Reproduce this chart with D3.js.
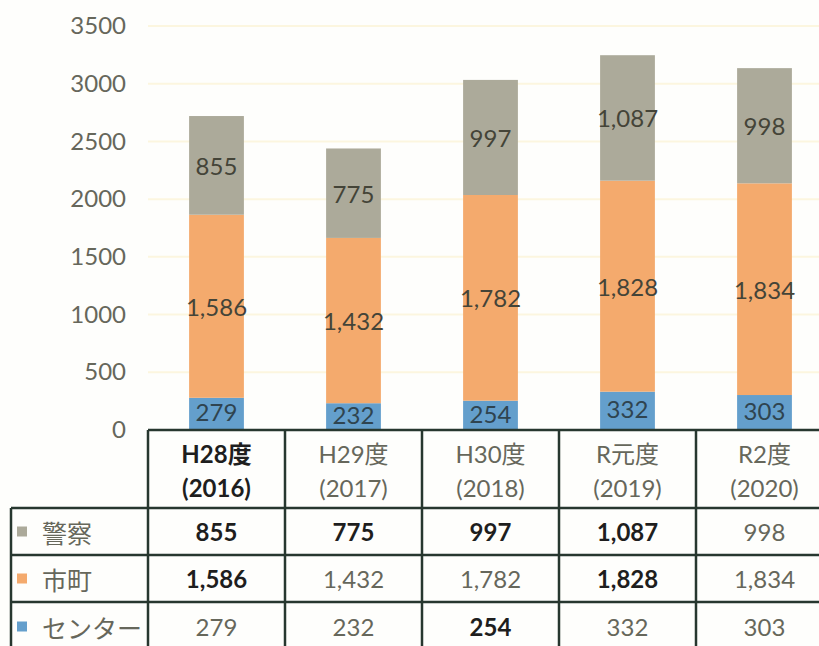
<!DOCTYPE html>
<html lang="ja">
<head>
    <meta charset="UTF-8">
    <title>Chart</title>
    <script src="https://d3js.org/d3.v7.min.js"></script>
    <style>
        body { margin: 0; background: #fefefc; }
        svg { display: block; font-family: Lato, "Noto Sans CJK JP", sans-serif; }
    </style>
</head>
<body>
    <svg></svg>

    <script>
        // data
        const years = ["H28度", "H29度", "H30度", "R元度", "R2度"];
        const yearsWestern = ["(2016)", "(2017)", "(2018)", "(2019)", "(2020)"];
        const center = [279, 232, 254, 332, 303];   // センター
        const towns = [1586, 1432, 1782, 1828, 1834]; // 市町
        const police = [855, 775, 997, 1087, 998];    // 警察
        const yTicks = [0, 500, 1000, 1500, 2000, 2500, 3000, 3500];

        const seriesNames = ["センター", "市町", "警察"];
        const seriesValues = [center, towns, police];
        const colors = ["#649fcc", "#f4aa6d", "#acaa9a"];

        const width = 819, height = 646;
        const svg = d3.select("svg")
            .attr("width", width)
            .attr("height", height)
            .attr("viewBox", [0, 0, width, height]);

        const tableLeft = 148, colStep = 137;
        const tableRight = tableLeft + colStep * years.length;

        const x = d3.scaleBand().domain(years).range([tableLeft, tableRight])
            .paddingInner(0.6).paddingOuter(0.3);
        const xCol = d3.scaleBand().domain(years).range([tableLeft, tableRight]);
        const y = d3.scaleLinear().domain([0, 3500]).range([430, 26]);

        // gridlines
        svg.append("g")
            .selectAll("line")
            .data(yTicks.slice(1))
            .join("line")
            .attr("x1", tableLeft).attr("x2", width)
            .attr("y1", d => y(d)).attr("y2", d => y(d))
            .attr("stroke", "#fcf6df").attr("stroke-width", 2);

        // y axis labels
        const yAxis = d3.axisLeft(y).tickValues(yTicks).tickFormat(d3.format("d"))
            .tickSize(0).tickPadding(0);
        svg.append("g")
            .attr("transform", "translate(126,0)")
            .call(yAxis)
            .call(g => g.select(".domain").remove())
            .call(g => g.selectAll("text")
                .attr("font-size", 24)
                .attr("font-family", "Lato, sans-serif")
                .attr("fill", "#66675b"));

        // stacked bars
        const rows = years.map((yr, i) => {
            const r = { year: yr };
            seriesNames.forEach((s, j) => r[s] = seriesValues[j][i]);
            return r;
        });
        const stacked = d3.stack().keys(seriesNames)(rows);

        const layers = svg.append("g")
            .selectAll("g")
            .data(stacked)
            .join("g")
            .attr("fill", (d, i) => colors[i]);

        layers.selectAll("rect")
            .data(d => d)
            .join("rect")
            .attr("x", d => x(d.data.year))
            .attr("y", d => y(d[1]))
            .attr("width", x.bandwidth())
            .attr("height", d => y(d[0]) - y(d[1]));

        // labels inside bars
        svg.append("g")
            .selectAll("g")
            .data(stacked)
            .join("g")
            .selectAll("text")
            .data(d => d.map(v => ({ v, key: d.key })))
            .join("text")
            .attr("x", d => x(d.v.data.year) + x.bandwidth() / 2)
            .attr("y", d => y((d.v[0] + d.v[1]) / 2) + (d.key === "センター" ? -2 : 0))
            .attr("text-anchor", "middle")
            .attr("dominant-baseline", "central")
            .attr("font-size", 24)
            .attr("fill", d => d.key === "センター" ? "#2f4450" : "#444438")
            .text(d => d3.format(",")(d.v.data[d.key]));

        // data table
        const rowTop = [508, 555, 602];
        const rowH = 47;
        const tableRows = [
            { name: "警察", values: police, color: colors[2], dark: [1, 1, 1, 1, 0] },
            { name: "市町", values: towns, color: colors[1], dark: [1, 0, 0, 1, 0] },
            { name: "センター", values: center, color: colors[0], dark: [0, 0, 1, 0, 0] }
        ];
        const headerDark = [1, 0, 0, 0, 0];

        const table = svg.append("g");

        // header
        table.selectAll("text.h1")
            .data(years)
            .join("text")
            .attr("class", "h1")
            .attr("x", d => xCol(d) + xCol.bandwidth() / 2)
            .attr("y", 453)
            .attr("text-anchor", "middle")
            .attr("dominant-baseline", "central")
            .attr("font-size", 24)
            .attr("font-weight", (d, i) => headerDark[i] ? "bold" : "normal")
            .attr("fill", (d, i) => headerDark[i] ? "#1e1e1e" : "#66675b")
            .text(d => d);

        table.selectAll("text.h2")
            .data(yearsWestern)
            .join("text")
            .attr("class", "h2")
            .attr("x", (d, i) => xCol(years[i]) + xCol.bandwidth() / 2)
            .attr("y", 487)
            .attr("text-anchor", "middle")
            .attr("dominant-baseline", "central")
            .attr("font-size", 24)
            .attr("font-weight", (d, i) => headerDark[i] ? "bold" : "normal")
            .attr("fill", (d, i) => headerDark[i] ? "#1e1e1e" : "#66675b")
            .text(d => d);

        tableRows.forEach((r, ri) => {
            const cy = rowTop[ri] + rowH / 2 + (ri === 2 ? 1 : 0);
            table.append("rect")
                .attr("x", 17).attr("y", cy - 5)
                .attr("width", 10).attr("height", 10)
                .attr("fill", r.color);
            table.append("text")
                .attr("x", 42).attr("y", cy)
                .attr("dominant-baseline", "central")
                .attr("font-size", 25)
                .attr("font-family", "'Noto Sans CJK JP', sans-serif")
                .attr("fill", "#66675b")
                .text(r.name);
            table.append("g")
                .selectAll("text")
                .data(r.values)
                .join("text")
                .attr("x", (d, i) => xCol(years[i]) + xCol.bandwidth() / 2)
                .attr("y", cy)
                .attr("text-anchor", "middle")
                .attr("dominant-baseline", "central")
                .attr("font-size", 24)
                .attr("font-weight", (d, i) => r.dark[i] ? "bold" : "normal")
                .attr("fill", (d, i) => r.dark[i] ? "#1e1e1e" : "#66675b")
                .text(d => d3.format(",")(d));
        });

        // table lines
        const lineColor = "#27372f";
        table.append("line")
            .attr("x1", tableLeft).attr("x2", width)
            .attr("y1", 430).attr("y2", 430)
            .attr("stroke", lineColor).attr("stroke-width", 2.5);
        table.selectAll("line.hr")
            .data(rowTop)
            .join("line")
            .attr("class", "hr")
            .attr("x1", 11).attr("x2", width)
            .attr("y1", d => d).attr("y2", d => d)
            .attr("stroke", lineColor).attr("stroke-width", 2.5);
        table.selectAll("line.vr")
            .data(years)
            .join("line")
            .attr("class", "vr")
            .attr("x1", d => xCol(d)).attr("x2", d => xCol(d))
            .attr("y1", 430).attr("y2", height)
            .attr("stroke", lineColor).attr("stroke-width", 2.5);
        table.append("line")
            .attr("x1", 11).attr("x2", 11)
            .attr("y1", rowTop[0]).attr("y2", height)
            .attr("stroke", lineColor).attr("stroke-width", 2.5);
    </script>
</body>
</html>
